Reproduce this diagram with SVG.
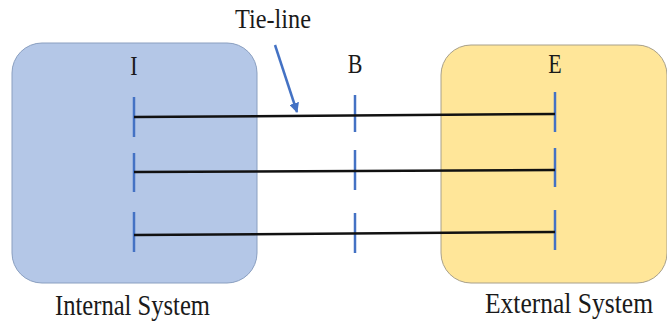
<svg xmlns="http://www.w3.org/2000/svg" width="667" height="324" viewBox="0 0 667 324">
  <style>
    .lbl { font-family: "Liberation Serif", "Times New Roman", serif; fill: #1a1a1a; }
    .bus { stroke: #4472C4; stroke-width: 2.5; fill: none; }
    .tie { stroke: #111; stroke-width: 2.5; fill: none; }
  </style>
  <defs>
    <marker id="ah" viewBox="0 0 10 10" refX="9" refY="5" markerWidth="4" markerHeight="4" orient="auto">
      <path d="M0,0 L10,5 L0,10 z" fill="#4472C4"/>
    </marker>
  </defs>

  <rect width="667" height="324" fill="#ffffff"/>

  <!-- Internal system -->
  <g id="internal">
    <rect x="12" y="43" width="245" height="240" rx="30" fill="#B4C7E7" stroke="#8A9FC0" stroke-width="1"/>
    <text class="lbl" font-size="26" transform="translate(55,315) scale(1,1.12)" textLength="155" lengthAdjust="spacingAndGlyphs">Internal System</text>
  </g>

  <!-- External system -->
  <g id="external">
    <rect x="441" y="45" width="226" height="238" rx="30" fill="#FFE699" stroke="#A8A08A" stroke-width="1"/>
    <text class="lbl" font-size="26" transform="translate(485,313) scale(1,1.12)" textLength="168" lengthAdjust="spacingAndGlyphs">External System</text>
  </g>

  <!-- Bus I -->
  <g id="bus-I">
    <text class="lbl" font-size="22" text-anchor="middle" transform="translate(134,75) scale(1,1.2)">I</text>
    <line class="bus" x1="134" y1="97" x2="134" y2="137"/>
    <line class="bus" x1="134" y1="153" x2="134" y2="192"/>
    <line class="bus" x1="134" y1="212" x2="134" y2="252"/>
  </g>

  <!-- Bus B -->
  <g id="bus-B">
    <text class="lbl" font-size="22" text-anchor="middle" transform="translate(355,73) scale(1,1.2)">B</text>
    <line class="bus" x1="355" y1="95" x2="355" y2="132"/>
    <line class="bus" x1="355" y1="150" x2="355" y2="190"/>
    <line class="bus" x1="355" y1="213" x2="355" y2="253"/>
  </g>

  <!-- Bus E -->
  <g id="bus-E">
    <text class="lbl" font-size="22" text-anchor="middle" transform="translate(555,73) scale(1,1.2)">E</text>
    <line class="bus" x1="555" y1="92" x2="555" y2="132"/>
    <line class="bus" x1="555" y1="148" x2="555" y2="187"/>
    <line class="bus" x1="555" y1="210" x2="555" y2="250"/>
  </g>

  <!-- Tie-line callout -->
  <g id="tie-line-label">
    <text class="lbl" font-size="24" transform="translate(235,28) scale(1,1.15)" textLength="76" lengthAdjust="spacingAndGlyphs">Tie-line</text>
  </g>

  <!-- Connectors -->
  <g id="connectors">
    <line class="tie" x1="134" y1="117" x2="555" y2="114"/>
    <line class="tie" x1="134" y1="172" x2="555" y2="170"/>
    <line class="tie" x1="134" y1="235" x2="555" y2="232"/>
    <line x1="275" y1="45" x2="297" y2="112" stroke="#4472C4" stroke-width="2.5" marker-end="url(#ah)"/>
  </g>
</svg>
